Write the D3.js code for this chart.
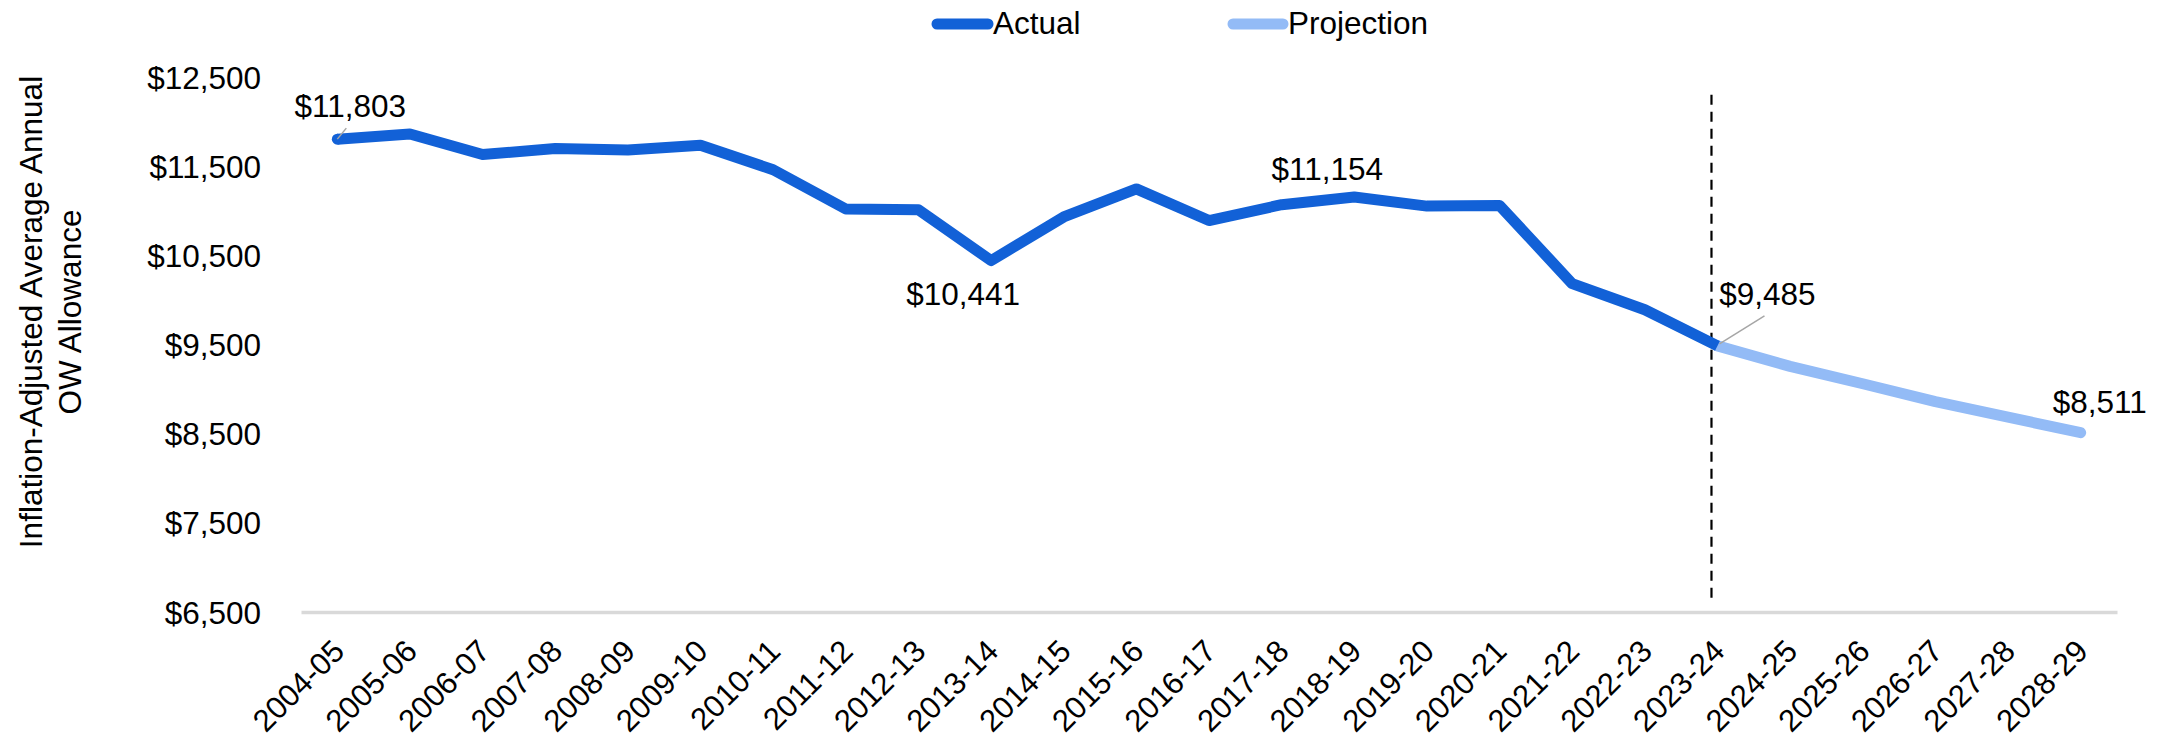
<!DOCTYPE html>
<html>
<head>
<meta charset="utf-8">
<script src="https://cdn.jsdelivr.net/npm/d3@7"></script>
<style>
  html, body { margin: 0; padding: 0; background: #fff; }
  svg { display: block; font-family: "Liberation Sans", Arial, sans-serif; }
</style>
</head>
<body>
<svg id="chart" width="2168" height="740"></svg>
<script>
// ---- Data ----
const categories = ["2004-05","2005-06","2006-07","2007-08","2008-09","2009-10","2010-11","2011-12","2012-13","2013-14","2014-15","2015-16","2016-17","2017-18","2018-19","2019-20","2020-21","2021-22","2022-23","2023-24","2024-25","2025-26","2026-27","2027-28","2028-29"];
const actualYears = categories.slice(0, 20);
const actualValues = [11803, 11860, 11630, 11697, 11682, 11735, 11460, 11020, 11012, 10441, 10930, 11245, 10890, 11068, 11154, 11052, 11060, 10182, 9890, 9485];
const projectionYears = categories.slice(19);
const projectionValues = [9485, 9255, 9060, 8860, 8685, 8511];
const yTicks = [6500, 7500, 8500, 9500, 10500, 11500, 12500];
const seriesNames = ["Actual", "Projection"];
const labelled = [
  { year: "2004-05", value: 11803, text: "$11,803", dx: 13, dy: -22, leader: [[0, 0], [9, -11]] },
  { year: "2013-14", value: 10441, text: "$10,441", dx: -28, dy: 44 },
  { year: "2018-19", value: 11154, text: "$11,154", dx: -27, dy: -17 },
  { year: "2023-24", value: 9485, text: "$9,485", dx: 50, dy: -41, leader: [[2, -2], [47, -30]] },
  { year: "2028-29", value: 8511, text: "$8,511", dx: 19, dy: -20 }
];
const dividerYear = "2023-24";

// ---- Style ----
const C_ACTUAL = "#1261D7";
const C_PROJ = "#93BBF6";
const FONT = 31.5;

const svg = d3.select("#chart");

const x = d3.scaleBand().domain(categories).range([301, 2117]);
const xc = d => x(d) + x.bandwidth() / 2;
const y = d3.scaleLinear().domain([6500, 12500]).range([612, 77]);

// Y axis (labels only)
const yAxis = d3.axisLeft(y).tickValues(yTicks).tickSize(0).tickPadding(0)
  .tickFormat(d => "$" + d3.format(",")(d));
const yg = svg.append("g").attr("transform", "translate(261,0)").call(yAxis);
yg.select(".domain").remove();
yg.selectAll("text").attr("font-size", FONT).attr("fill", "#000")
  .attr("font-family", "Liberation Sans, Arial, sans-serif").attr("dy", "0.35em");

// X axis
const xAxis = d3.axisBottom(x).tickSize(0).tickPadding(0);
const xg = svg.append("g").attr("transform", "translate(0,612)").call(xAxis);
xg.select(".domain").attr("stroke", "#D9D9D9").attr("stroke-width", 3.5);
xg.selectAll("text")
  .attr("font-size", 31).attr("fill", "#000")
  .attr("font-family", "Liberation Sans, Arial, sans-serif")
  .attr("text-anchor", "end")
  .attr("dy", 0)
  .attr("transform", "translate(9,41) rotate(-45)");

// Divider dashed line
svg.append("line")
  .attr("x1", xc(dividerYear) - 6).attr("x2", xc(dividerYear) - 6)
  .attr("y1", y(12300)).attr("y2", y(6600))
  .attr("stroke", "#000").attr("stroke-width", 2.2)
  .attr("stroke-dasharray", "10,7");

// Lines
const line = d3.line().x(d => xc(d[0])).y(d => y(d[1]));
svg.append("path")
  .datum(projectionYears.map((c, i) => [c, projectionValues[i]]))
  .attr("d", line).attr("fill", "none").attr("stroke", C_PROJ)
  .attr("stroke-width", 11).attr("stroke-linecap", "round").attr("stroke-linejoin", "round");
svg.append("path")
  .datum(actualYears.map((c, i) => [c, actualValues[i]]))
  .attr("d", line).attr("fill", "none").attr("stroke", C_ACTUAL)
  .attr("stroke-width", 11).attr("stroke-linecap", "butt").attr("stroke-linejoin", "round");
// round start cap for actual
svg.append("circle").attr("cx", xc(actualYears[0])).attr("cy", y(actualValues[0]))
  .attr("r", 5.5).attr("fill", C_ACTUAL);

// Data labels
labelled.forEach(l => {
  const px = xc(l.year), py = y(l.value);
  if (l.leader) {
    svg.append("line")
      .attr("x1", px + l.leader[0][0]).attr("y1", py + l.leader[0][1])
      .attr("x2", px + l.leader[1][0]).attr("y2", py + l.leader[1][1])
      .attr("stroke", "#A6A6A6").attr("stroke-width", 1.5);
  }
  svg.append("text").attr("x", px + l.dx).attr("y", py + l.dy)
    .attr("text-anchor", "middle").attr("font-size", FONT).attr("fill", "#000")
    .text(l.text);
});

// Y axis title
const title = svg.append("text")
  .attr("transform", "translate(50,312) rotate(-90)")
  .attr("text-anchor", "middle").attr("font-size", FONT).attr("fill", "#000");
title.append("tspan").attr("x", 0).attr("y", -8).text("Inflation-Adjusted Average Annual");
title.append("tspan").attr("x", 0).attr("y", 31).text("OW Allowance");

// Legend
const legend = [
  { name: seriesNames[0], color: C_ACTUAL, x1: 937, x2: 988, tx: 993 },
  { name: seriesNames[1], color: C_PROJ, x1: 1233, x2: 1283, tx: 1288 }
];
legend.forEach(l => {
  svg.append("line").attr("x1", l.x1).attr("x2", l.x2).attr("y1", 24).attr("y2", 24)
    .attr("stroke", l.color).attr("stroke-width", 11).attr("stroke-linecap", "round");
  svg.append("text").attr("x", l.tx).attr("y", 34).attr("font-size", FONT)
    .attr("fill", "#000").text(l.name);
});
</script>
</body>
</html>
